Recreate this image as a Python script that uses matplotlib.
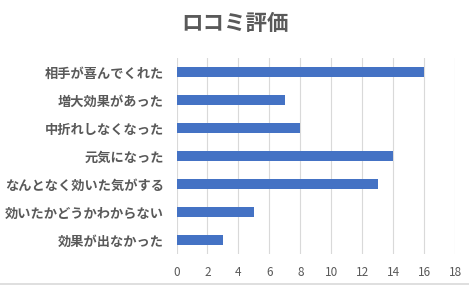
import matplotlib
matplotlib.use("Agg")
from matplotlib import pyplot as plt
import numpy as np

plt.rcParams['font.family'] = ['Noto Sans CJK JP', 'DejaVu Sans']

categories = ["相手が喜んでくれた", "増大効果があった", "中折れしなくなった", "元気になった",
              "なんとなく効いた気がする", "効いたかどうかわからない", "効果が出なかった"]
values = [16, 7, 8, 14, 13, 5, 3]
xticks = [0, 2, 4, 6, 8, 10, 12, 14, 16, 18]

fig = plt.figure(figsize=(4.69, 2.86), dpi=100)
ax = fig.add_axes([176.5 / 469, 1 - 254 / 286, (455 - 176.5) / 469, 196 / 286])

y = np.arange(len(categories))
ax.barh(y, values, height=0.37, color="#4472C4", zorder=3)

ax.set_xlim(0, 18)
ax.set_ylim(len(categories) - 0.5, -0.5)
ax.set_xticks(xticks)
ax.set_yticks(y)
ax.set_yticklabels(categories, fontsize=9.5, fontweight="bold", color="#595959")
ax.tick_params(axis="x", labelsize=8.5, colors="#595959", length=0, pad=9)
ax.tick_params(axis="y", length=0, pad=9)
ax.grid(axis="x", color="#d9d9d9", linewidth=0.8, zorder=0)
for s in ax.spines.values():
    s.set_visible(False)

fig.text(235 / 469, 1 - 24 / 286, "ロコミ評価", ha="center", va="center",
         fontsize=15.5, fontweight="bold", color="#595959")

# bottom edge line of the chart area
fig.add_artist(plt.Line2D([0, 1], [1 - 284 / 286] * 2, transform=fig.transFigure,
                          color="#d9d9d9", linewidth=1.2))

fig.savefig("out.png", dpi=100)
